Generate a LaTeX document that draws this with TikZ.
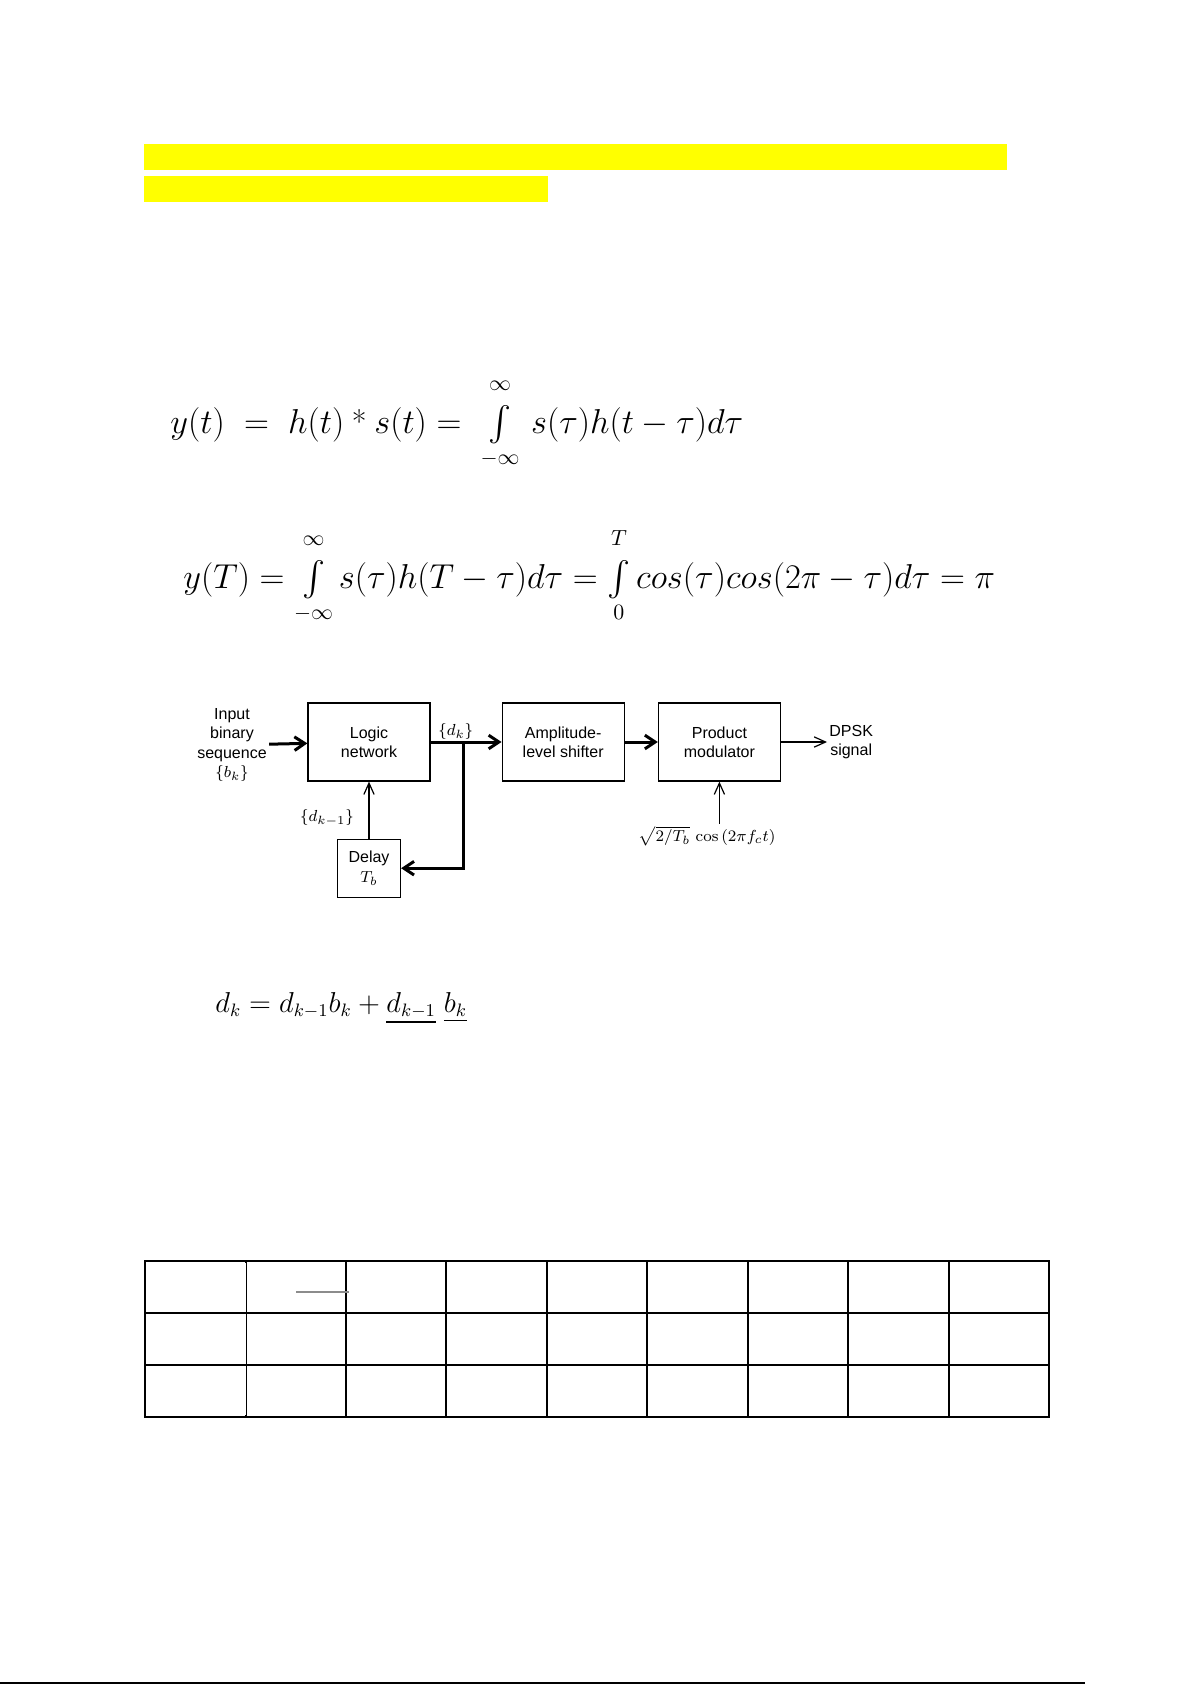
\documentclass[tikz,border=0pt]{standalone}
\usepackage{fontspec}
\usepackage{amsmath}
\usetikzlibrary{arrows.meta,positioning}
\newfontfamily\blockfont{Liberation Sans}
\definecolor{MarkYellow}{RGB}{255,255,0}
\definecolor{RuleGray}{RGB}{140,140,140}
% integral with limits set well above and below
\newcommand{\limint}[2]{\mathop{\int}\limits^{\raisebox{4pt}{$\scriptstyle #2$}}_{\scriptstyle #1}}

\begin{document}
\begin{tikzpicture}[
    x=0.5pt, y=-0.5pt,
    eqn/.style={inner sep=0pt, anchor=base west, font=\fontsize{16}{19}\selectfont},
    blk/.style={draw, line width=0.6pt, align=center, inner sep=0pt, minimum width=61pt, minimum height=39pt, font=\blockfont\fontsize{8}{9.7}\selectfont},
    lbl/.style={inner sep=1pt, align=center, font=\blockfont\fontsize{8}{9.7}\selectfont},
    thk/.style={-{Straight Barb[length=1.8mm, width=2.4mm]}, line width=1.5pt},
    thn/.style={-{Straight Barb[length=2mm, width=1.8mm]}, line width=0.6pt},
    grid/.style={line width=0.9pt},
    frame/.style={line width=1.3pt}
  ]
    \useasboundingbox (0,0) rectangle (1192,1685);

    % highlighted (empty) heading
    \fill[MarkYellow] (144,144) rectangle (1007,170);
    \fill[MarkYellow] (144,176) rectangle (548,202);

    % equations
    \node[eqn] (conv) at (170,433) {$y(t)\;=\;h(t)\mathbin{\text{*}}s(t) =\;\limint{-\infty}{\infty}\,s(\tau)h(t\mathbin{-}\tau)d\tau$};
    \node[eqn] (sample) at (183,588) {$y(T) = \limint{-\infty}{\infty}s(\tau)h(T\mathbin{-}\tau)d\tau =\limint{0}{T}cos(\tau)cos(2\pi\mathbin{-}\tau)d\tau = \pi$};

    % DPSK transmitter
    \node[blk] (logic) at (369,742) {Logic\\network};
    \node[blk, right=35.5pt of logic] (amp) {Amplitude-\\level shifter};
    \node[blk, right=16.5pt of amp] (prod) {Product\\modulator};
    \node[blk, minimum width=31.5pt, minimum height=29pt, below=28.5pt of logic] (delay) {Delay\\$T_b$};
    \node[lbl] (inp) at (232,745) {Input\\binary\\sequence\\$\{b_k\}$};
    \node[lbl, right=23pt of prod] (dpsk) {DPSK\\signal};
    \node[lbl] (carrier) at (707,836) {$\sqrt{2/T_b}\,\cos\,(2\pi f_c t)$};
    \coordinate[right=16.5pt of logic.east] (fork);
    \node[lbl, above left=0pt and -6pt of fork] (dk) {$\{d_k\}$};
    \node[lbl] (dkprev) at (327,818) {$\{d_{k-1}\}$};

    \draw[thk] (inp) -- (logic);
    \draw[thk] (logic) -- (amp);
    \draw[thk] (amp) -- (prod);
    \draw[thk] (fork) |- (delay);
    \draw[thn] (delay) -- (logic);
    \draw[thn] (prod) -- (dpsk);
    \draw[thn] (prod.south |- carrier.north) -- (prod.south);

    % recurrence
    \node[eqn, font=\fontsize{13.5}{16}\selectfont] (rec) at (215,1012) {$d_k = d_{k-1}b_k + \underline{d_{k-1}}\;\underline{b_k}$};

    % empty table
    \foreach \x in {246,346,446,547,647,748,848,949}
      \draw[grid] (\x,1261) -- (\x,1417);
    \draw[white, line width=1pt] (246,1263) -- (246,1415);
    \draw[line width=0.4pt] (246,1261) -- (246,1417);
    \draw[grid] (145,1313) -- (1049,1313);
    \draw[frame] (145,1365) -- (1049,1365);
    \draw[frame] (145,1261) rectangle (1049,1417);
    \draw[RuleGray, line width=1pt] (296,1292) -- (349,1292);

    % page rule
    \draw[line width=1pt] (0,1683) -- (1085,1683);
\end{tikzpicture}
\end{document}
